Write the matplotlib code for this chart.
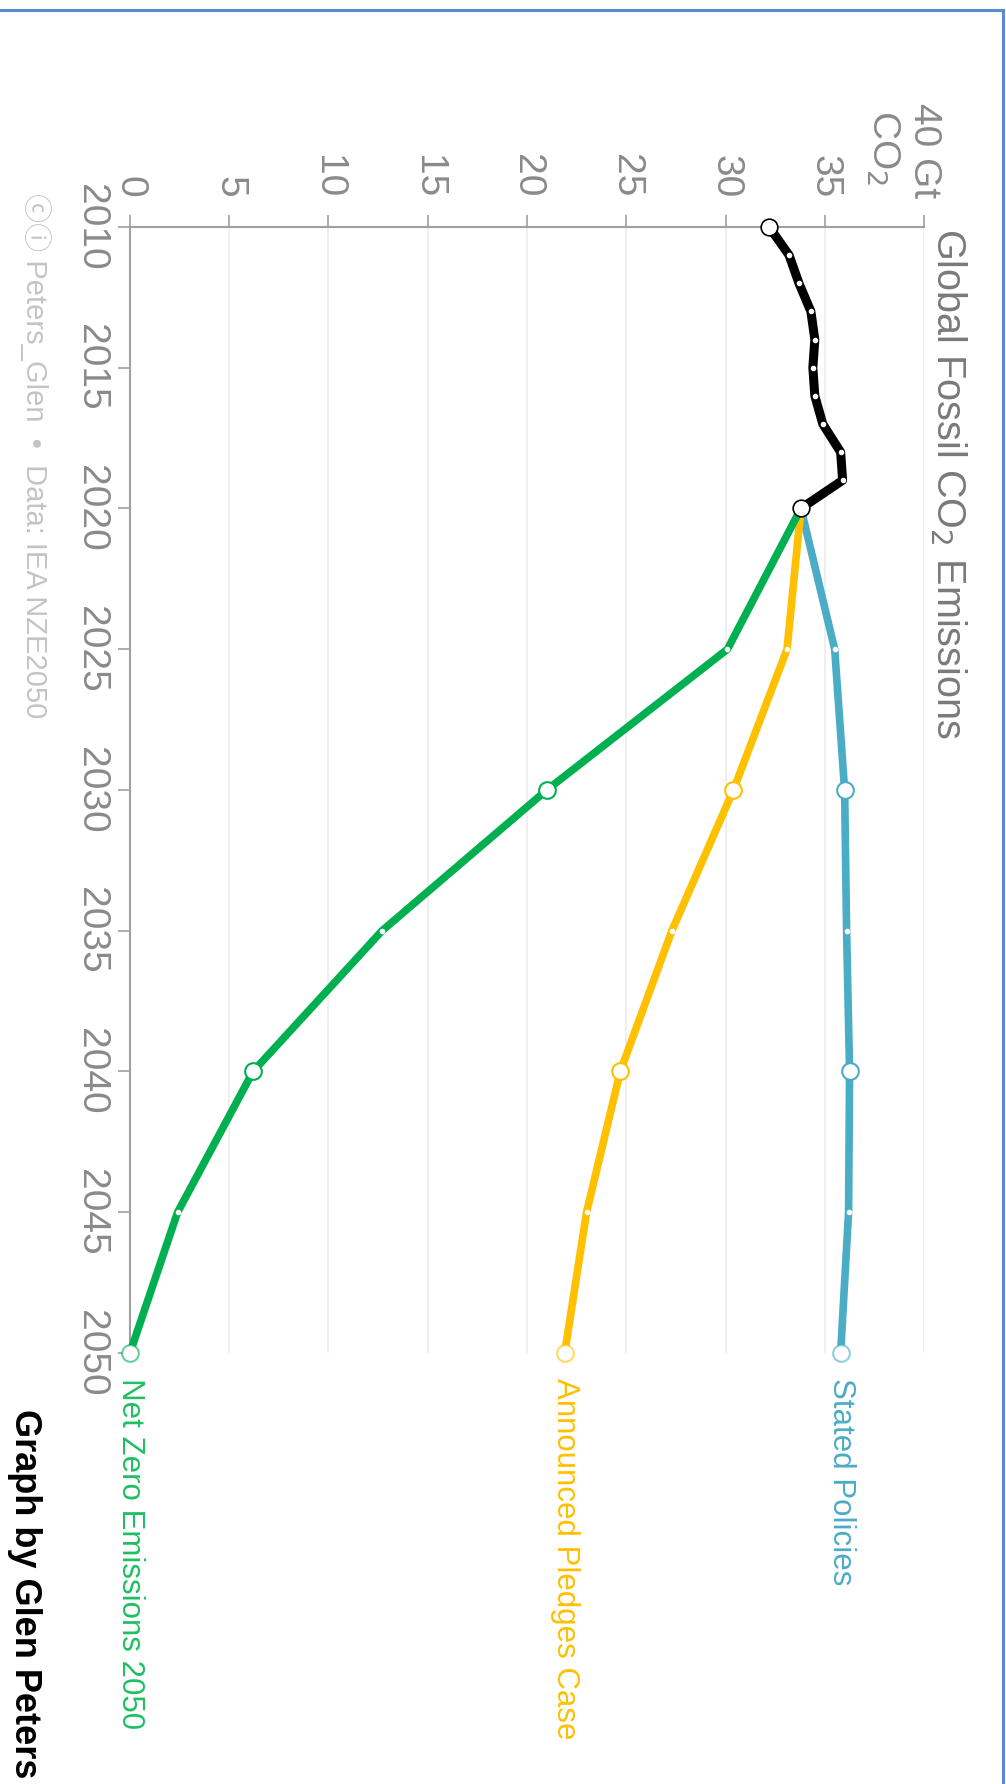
import matplotlib.pyplot as plt
from matplotlib.lines import Line2D

# historical emissions (Gt CO2)
hist_years = [2010, 2011, 2012, 2013, 2014, 2015, 2016, 2017, 2018, 2019, 2020]
hist_vals = [32.2, 33.2, 33.7, 34.3, 34.5, 34.4, 34.5, 34.9, 35.8, 35.9, 33.8]

# scenarios
scen_years = [2020, 2025, 2030, 2035, 2040, 2045, 2050]
steps_vals = [33.8, 35.5, 36.0, 36.1, 36.25, 36.2, 35.8]
apc_vals = [33.8, 33.1, 30.4, 27.3, 24.7, 23.0, 21.9]
nze_vals = [33.8, 30.1, 21.0, 12.7, 6.2, 2.4, 0.0]

scen_names = ['Stated Policies', 'Announced Pledges Case', 'Net Zero Emissions 2050']
scen_colors = ['#4bacc6', '#ffc000', '#00b050']
label_colors = ['#4bacc6', '#ffc000', '#1fbf62']
big_marker_years = [2030, 2040, 2050]

value_ticks = [0, 5, 10, 15, 20, 25, 30, 35, 40]
value_labels = ['0', '5', '10', '15', '20', '25', '30', '35', '40 Gt']
year_ticks = [2010, 2015, 2020, 2025, 2030, 2035, 2040, 2045, 2050]

plt.rcParams['font.family'] = ['Liberation Sans', 'DejaVu Sans']

fig = plt.figure(figsize=(10.06, 17.84), dpi=100)
ax = fig.add_axes([0.1292, 0.2416, 0.7893, 0.6312])

ax.set_xlim(0, 40)
ax.set_ylim(2050, 2010)

# spines: value axis on top, year axis on the left
for s in ['right', 'bottom']:
    ax.spines[s].set_visible(False)
ax.spines['top'].set_color('#a0a0a0')
ax.spines['left'].set_color('#a0a0a0')
ax.spines['top'].set_linewidth(1.5)
ax.spines['left'].set_linewidth(1.5)

ax.xaxis.tick_top()
ax.set_xticks(value_ticks)
ax.set_xticklabels(value_labels, rotation=-90, fontsize=28, color='#8a8a8a')
ax.set_yticks(year_ticks)
ax.set_yticklabels([str(y) for y in year_ticks], rotation=-90, fontsize=28,
                   color='#8a8a8a', va='center')
ax.tick_params(axis='x', length=9, width=1.2, color='#a0a0a0', pad=12)
ax.tick_params(axis='y', length=9, width=1.2, color='#a0a0a0', pad=6)
for lab in ax.get_xticklabels():
    lab.set_verticalalignment('bottom')

# vertical gridlines
for v in value_ticks[1:]:
    ax.axvline(v, color='#ececec', lw=1.2, zorder=0)

# scenarios
for vals, col, lcol, name in zip([steps_vals, apc_vals, nze_vals], scen_colors,
                                 label_colors, scen_names):
    ax.plot(vals, scen_years, color=col, lw=5.5, solid_capstyle='round',
            solid_joinstyle='round', zorder=3, clip_on=False)
    for v, y in zip(vals[1:], scen_years[1:]):
        if y in big_marker_years:
            ec = col if y != 2050 else col + '99'
            ax.plot(v, y, 'o', ms=12, mfc='white', mec=ec, mew=1.5, zorder=5,
                    clip_on=False)
        else:
            ax.plot(v, y, 'o', ms=3, mfc='white', mec='white', zorder=5)
    ax.annotate(name, xy=(vals[-1], scen_years[-1]), xytext=(0, -18),
                textcoords='offset points', rotation=-90, ha='center', va='top',
                fontsize=22.5, color=lcol, annotation_clip=False)

# historical
ax.plot(hist_vals, hist_years, color='black', lw=6.5, solid_joinstyle='round',
        zorder=6, clip_on=False)
ax.plot(hist_vals[1:-1], hist_years[1:-1], 'o', ms=3, mfc='white', mec='white', zorder=7)
ax.plot([hist_vals[0], hist_vals[-1]], [hist_years[0], hist_years[-1]], 'o', ms=12,
        mfc='white', mec='black', mew=1.2, zorder=8, clip_on=False)

# unit label next to "40 Gt"
ax.annotate('CO$_2$', xy=(40, 2010), xycoords='data', xytext=(-30, 30),
            textcoords='offset points', rotation=-90, ha='center', va='bottom',
            fontsize=28, color='#8a8a8a', annotation_clip=False)

# title
fig.text(0.943, 0.872, 'Global Fossil CO$_2$ Emissions', rotation=-90,
         ha='center', va='top', fontsize=28.5, color='#7a7a7a')

# credit
fig.text(0.035, 0.892, 'ⓒⓘ Peters_Glen  •  Data: IEA NZE2050', rotation=-90,
         ha='center', va='top', fontsize=21, color='#c4c4c4',
         family=['Liberation Sans', 'Noto Sans CJK JP', 'DejaVu Sans'])

fig.text(0.024, 0.21, 'Graph by Glen Peters', rotation=-90, ha='center', va='top',
         fontsize=26, fontweight='bold', color='black')

# blue frame (top and right edges)
fig.add_artist(Line2D([0, 0.997], [0.9945, 0.9945], color='#5b8bd0', lw=2.2,
                      transform=fig.transFigure))
fig.add_artist(Line2D([0.997, 0.997], [0, 0.9945], color='#5b8bd0', lw=2.2,
                      transform=fig.transFigure))

fig.savefig('out.png', dpi=100)
